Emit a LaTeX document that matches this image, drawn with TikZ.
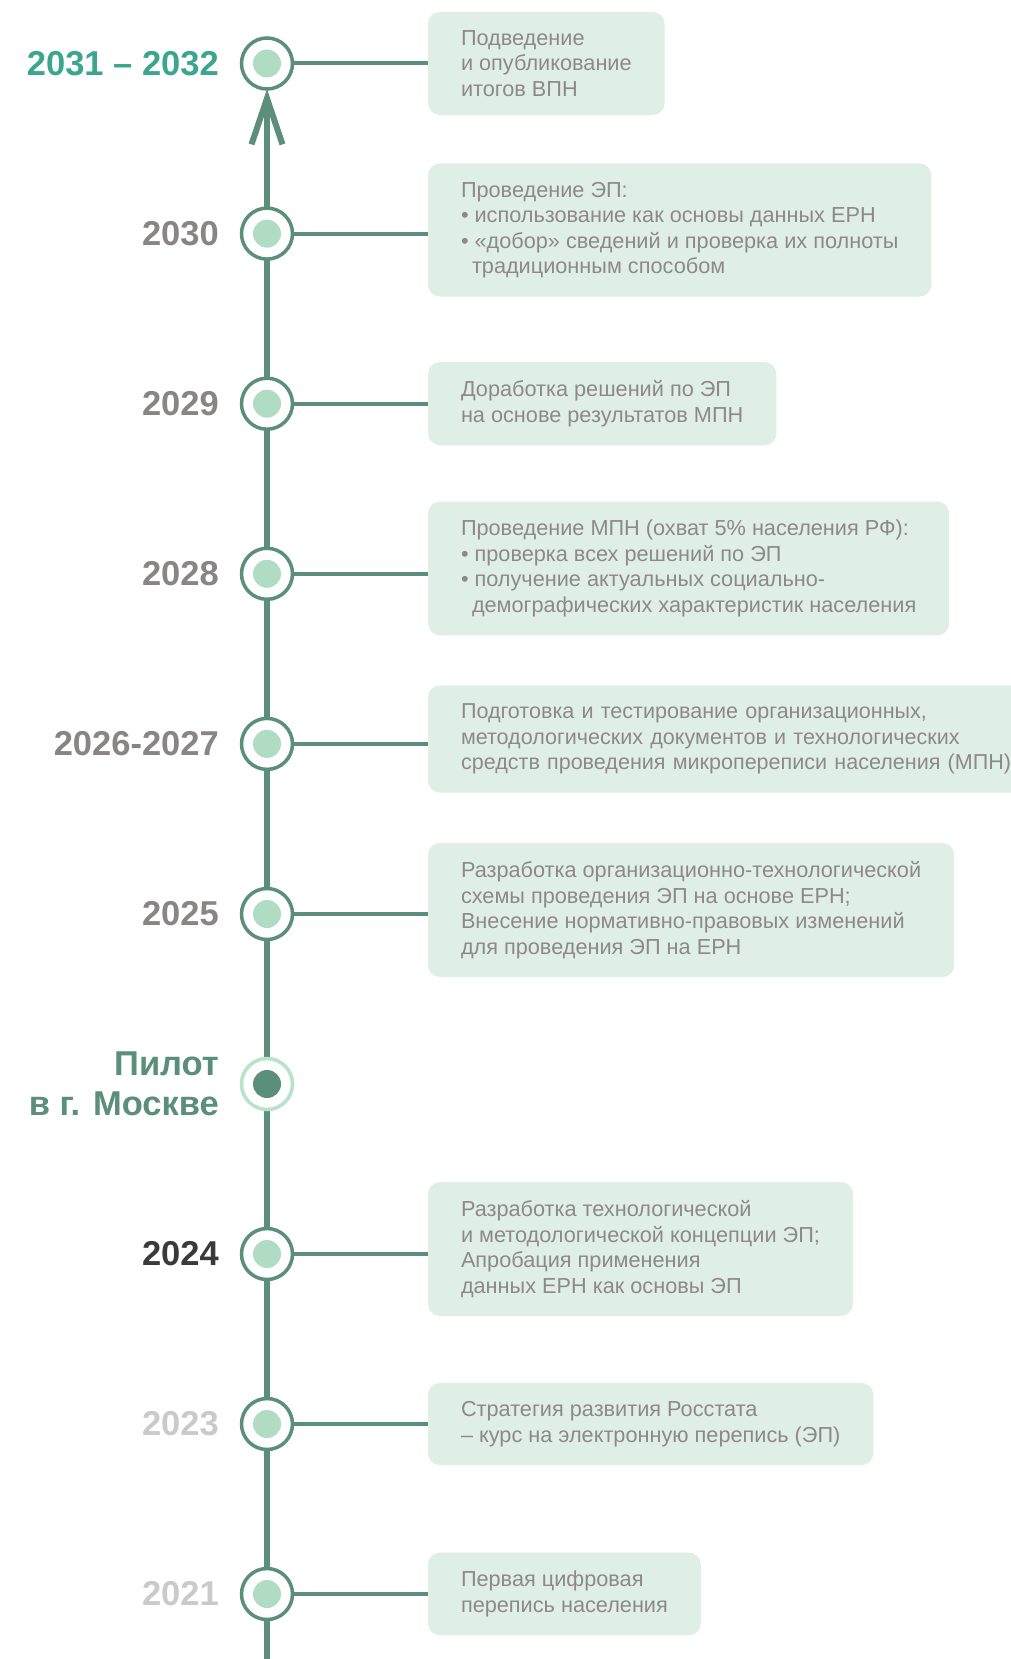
\documentclass[tikz,border=0pt]{standalone}
\usepackage{fontspec}
\setmainfont{Liberation Sans}
\usepackage{xcolor}
\usepackage{tikz}
\usetikzlibrary{arrows.meta}
\usetikzlibrary{backgrounds}
\definecolor{spine}{HTML}{5B8F7B}
\definecolor{dotc}{HTML}{B1DCC4}
\definecolor{ringlight}{HTML}{B8E2C9}
\definecolor{boxc}{HTML}{E0EFE5}
\definecolor{boxtxt}{HTML}{8C8989}
\definecolor{yrgrey}{HTML}{898585}
\definecolor{yrteal}{HTML}{3AA68E}
\definecolor{yrdark}{HTML}{3A3A3A}
\definecolor{yrlight}{HTML}{CACACA}
\tikzset{
  yr/.style={circle,draw=spine,line width=3.5pt,fill=white,minimum size=51pt,inner sep=0pt,outer sep=0pt,
    path picture={\fill[dotc] (path picture bounding box.center) circle (14pt);}},
  pilotyr/.style={circle,draw=ringlight,line width=3.5pt,fill=white,minimum size=51pt,inner sep=0pt,outer sep=0pt,
    path picture={\fill[spine] (path picture bounding box.center) circle (14pt);}},
  yearlbl/.style={anchor=east,inner sep=0pt,font=\fontsize{34.5}{40}\selectfont\bfseries},
  event/.style={anchor=west,fill=boxc,rounded corners=12pt,inner xsep=33pt,inner ysep=18.5pt,outer sep=0pt,
    align=left,text=boxtxt,font=\fontsize{21.7}{25.5}\selectfont},
  link/.style={spine,line width=4pt}
}
\begin{document}
\begin{tikzpicture}[x=1pt,y=-1pt]
\useasboundingbox (0,0) rectangle (1011,1659);
\node[yr] (c31) at (267,63.5) {};
\node[yr] (c30) at (267,233.6) {};
\node[yr] (c29) at (267,403.7) {};
\node[yr] (c28) at (267,573.8) {};
\node[yr] (c26) at (267,743.9) {};
\node[yr] (c25) at (267,914) {};
\node[pilotyr] (cpilot) at (267,1084) {};
\node[yr] (c24) at (267,1254) {};
\node[yr] (c23) at (267,1424) {};
\node[yr] (c21) at (267,1594) {};
\coordinate (bot) at (267,1670);

\node[yearlbl,text=yrteal] (y31) at (219,63.5) {2031 – 2032};
\node[yearlbl,text=yrgrey] (y30) at (219,233.6) {2030};
\node[yearlbl,text=yrgrey] (y29) at (219,403.7) {2029};
\node[yearlbl,text=yrgrey] (y28) at (219,573.8) {2028};
\node[yearlbl,text=yrgrey] (y26) at (219,743.9) {2026-2027};
\node[yearlbl,text=yrgrey] (y25) at (219,914) {2025};
\node[yearlbl,text=spine,align=right] (ypilot) at (219,1084) {Пилот\\в г. Москве};
\node[yearlbl,text=yrdark] (y24) at (219,1254) {2024};
\node[yearlbl,text=yrlight] (y23) at (219,1424) {2023};
\node[yearlbl,text=yrlight] (y21) at (219,1594) {2021};

\node[event] (b31) at (428,63.5) {Подведение\\и опубликование\\итогов ВПН};
\node[event] (b30) at (428,230) {Проведение ЭП:\\• использование как основы данных ЕРН\\• «добор» сведений и проверка их полноты\\\hspace*{11pt}традиционным способом};
\node[event] (b29) at (428,403.7) {Доработка решений по ЭП\\на основе результатов МПН};
\node[event] (b28) at (428,568.5) {Проведение МПН (охват 5\% населения РФ):\\• проверка всех решений по ЭП\\• получение актуальных социально-\\\hspace*{11pt}демографических характеристик населения};
\node[event,text width=570pt,font=\fontsize{21.55}{25.5}\selectfont] (b26) at (428,739) {Подготовка и тестирование организационных,\\методологических документов и технологических\\средств проведения микропереписи населения (МПН)};
\node[event] (b25) at (428,910) {Разработка организационно-технологической\\схемы проведения ЭП на основе ЕРН;\\Внесение нормативно-правовых изменений\\для проведения ЭП на ЕРН};
\node[event] (b24) at (428,1249) {Разработка технологической\\и методологической концепции ЭП;\\Апробация применения\\данных ЕРН как основы ЭП};
\node[event] (b23) at (428,1424) {Стратегия развития Росстата\\– курс на электронную перепись (ЭП)};
\node[event] (b21) at (428,1594) {Первая цифровая\\перепись населения};

\draw[link] (c31) -- (c31 -| b31.west);
\draw[link] (c30) -- (c30 -| b30.west);
\draw[link] (c29) -- (c29 -| b29.west);
\draw[link] (c28) -- (c28 -| b28.west);
\draw[link] (c26) -- (c26 -| b26.west);
\draw[link] (c25) -- (c25 -| b25.west);
\draw[link] (c24) -- (c24 -| b24.west);
\draw[link] (c23) -- (c23 -| b23.west);
\draw[link] (c21) -- (c21 -| b21.west);

\begin{scope}[on background layer]
\fill[white] (0,0) rectangle (1011,1659);
\draw[spine,line width=6pt,-{Straight Barb[length=46pt,width=31pt]}] (bot) -- (c31);
\end{scope}
\end{tikzpicture}
\end{document}
